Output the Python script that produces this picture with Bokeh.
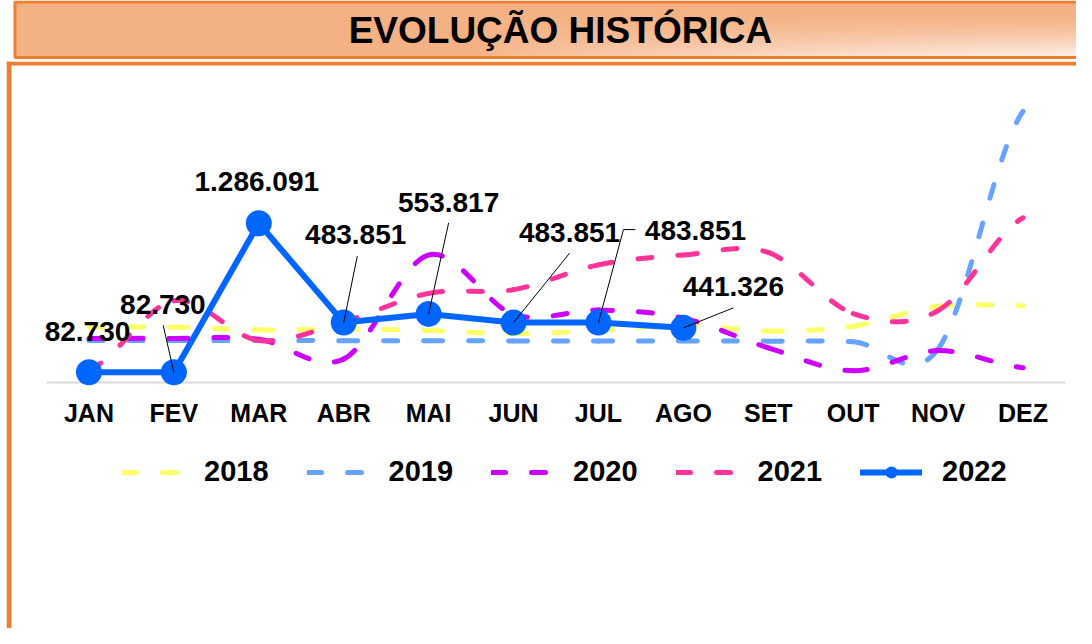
import numpy as np
from bokeh.plotting import figure
from bokeh.models import Range1d, LinearAxis, FixedTicker, Legend, LegendItem, ColumnDataSource
from bokeh.layouts import column
from bokeh.embed import file_html
from bokeh.resources import INLINE
from bokeh.core.properties import value

# ---------------- data ----------------
MONTHS = ["JAN", "FEV", "MAR", "ABR", "MAI", "JUN", "JUL", "AGO", "SET", "OUT", "NOV", "DEZ"]
YEARS = ["2018", "2019", "2020", "2021", "2022"]
Y2018 = [447000, 447000, 425000, 430000, 420000, 395000, 420000, 465000, 415000, 455000, 615000, 620000]
Y2019 = [340000, 340000, 340000, 338000, 338000, 336000, 336000, 336000, 334000, 330000, 270000, 2190000]
Y2020 = [356000, 356000, 350000, 190000, 1030000, 550000, 585000, 520000, 280000, 95000, 258000, 120000]
Y2021 = [100000, 660000, 340000, 490000, 720000, 750000, 950000, 1030000, 1050000, 557000, 580000, 1330000]
Y2022 = [82730, 82730, 1286091, 483851, 553817, 483851, 483851, 441326]

COLORS = ["#FFFF66", "#66A3FF", "#CC00FF", "#FF3399", "#0066FF"]

# label placement (screen px of the text centre relative to each 2022 point)
LABEL_DX = [-1.5, -11, -2, 12, 20, 56, 97, 50]
LABEL_DY = [-41, -68, -42, -88, -111, -90, -92, -41]
# leader lines: (knee dx, knee dy, end dx, end dy) or None
LEADERS = [None, (-10.7, -47, -10.7, -47), None, (13.6, -66.5, 13.6, -66.5),
           (20, -91, 20, -91), (56, -69.4, 56, -69.4), (25, -93, 37, -93), (50, -20, 50, -20)]

FONT = "Liberation Sans"
W = 1076
TITLE_H = 61
CHART_H = 567

# ---------------- title bar ----------------
t = figure(width=W, height=TITLE_H, x_range=Range1d(0, W), y_range=Range1d(0, TITLE_H),
           output_backend="svg", toolbar_location=None, min_border=0,
           x_axis_location=None, y_axis_location=None)
t.xgrid.visible = False
t.ygrid.visible = False
t.outline_line_color = None
t.background_fill_color = "white"
t.border_fill_color = "white"

IH, IW = 56, 1068
x0p, x1p = 16.5, 1084.0
ypb, ypt = 65.0, 9.5  # page y of image bottom / top
pxs = x0p + (np.arange(IW) + 0.5) * (x1p - x0p) / IW
pys = ypb - (np.arange(IH) + 0.5) * (ypb - ypt) / IH
PX, PY = np.meshgrid(pxs, pys)
tx = np.clip((PX - 480) / (1092 - 480), 0, 1)
ty = np.clip((PY - 18) / (64 - 18), 0, 1)
tt = (tx ** 0.6) * (ty ** 1.5)
C0 = np.array([244, 177, 131], float)
C1 = np.array([253, 241, 233], float)
img = np.empty((IH, IW), dtype=np.uint32)
view = img.view(dtype=np.uint8).reshape((IH, IW, 4))
for k in range(3):
    view[:, :, k] = np.round(C0[k] + (C1[k] - C0[k]) * tt).astype(np.uint8)
view[:, :, 3] = 255
t.image_rgba(image=[img], x=x0p - 8, y=8 + TITLE_H - ypb, dw=x1p - x0p, dh=ypb - ypt)
t.quad(left=[8.5], right=[W + 10], bottom=[4], top=[59.5], fill_color=None,
       line_color="#ED7D31", line_width=3)
t.text(x=[557], y=[31], text=["EVOLUÇÃO HISTÓRICA"], text_font=value(FONT),
       text_font_style="bold", text_font_size="37px", text_align="center",
       text_baseline="middle", text_color="black")

# ---------------- chart ----------------
FRAME_L, FRAME_R, FRAME_T, FRAME_B = 14, 1084, 69, 636  # page px
PLOT_L, PLOT_R, ZERO_Y = 54, 1073, 390
PXX = (PLOT_R - PLOT_L) / len(MONTHS)
VPX = 8076.0
x_start = -0.5 - (PLOT_L - FRAME_L) / PXX
x_end = len(MONTHS) - 0.5 + (FRAME_R - PLOT_R) / PXX
y_end = (ZERO_Y - FRAME_T) * VPX
y_start = -(FRAME_B - ZERO_Y) * VPX

p = figure(width=W, height=CHART_H, x_range=Range1d(x_start, x_end), y_range=Range1d(y_start, y_end),
           output_backend="svg", toolbar_location=None,
           min_border_left=FRAME_L - 8, min_border_right=0, min_border_top=0, min_border_bottom=0,
           x_axis_location=None, y_axis_location=None)
p.xgrid.visible = False
p.ygrid.visible = False
p.outline_line_color = None
p.background_fill_color = "white"
p.border_fill_color = "white"

# box borders (left and top)
p.quad(left=[x_start], right=[x_start + 5 / PXX], bottom=[y_start], top=[y_end],
       fill_color="#ED7D31", line_color=None)
p.quad(left=[x_start], right=[x_end], bottom=[y_end - 4 * VPX], top=[y_end],
       fill_color="#ED7D31", line_color=None)

# baseline
p.segment(x0=[-0.5], y0=[0], x1=[len(MONTHS) - 0.5], y1=[0], line_color="#D9D9D9", line_width=2)


def bez(vals):
    v = np.asarray(vals, float)
    n = len(v)
    x = np.arange(n, dtype=float)
    vp = np.concatenate([[v[0]], v, [v[-1]]])
    m = (vp[2:] - vp[:-2]) / 2.0
    return dict(x0=x[:-1], y0=v[:-1], x1=x[1:], y1=v[1:],
                cx0=x[:-1] + 1 / 3, cy0=v[:-1] + m[:-1] / 3,
                cx1=x[1:] - 1 / 3, cy1=v[1:] - m[1:] / 3)


renderers = []
for vals, col in zip([Y2018, Y2019, Y2020, Y2021], COLORS[:4]):
    r = p.bezier(source=ColumnDataSource(bez(vals)), x0="x0", y0="y0", x1="x1", y1="y1",
                 cx0="cx0", cy0="cy0", cx1="cx1", cy1="cy1",
                 line_color=col, line_width=5, line_dash="14 26", line_cap="round")
    renderers.append(r)

idx22 = list(range(len(Y2022)))
r22 = p.line(idx22, Y2022, line_color=COLORS[4], line_width=6, line_join="round", line_cap="round")
s22 = p.scatter(idx22, Y2022, size=26, fill_color=COLORS[4], line_color=None)

# leader lines
lx0, ly0, lx1, ly1 = [], [], [], []
for i, (v, ld) in enumerate(zip(Y2022, LEADERS)):
    if ld is None:
        continue
    kdx, kdy, edx, edy = ld
    lx0.append(i); ly0.append(v)
    lx1.append(i + kdx / PXX); ly1.append(v - kdy * VPX)
    if (edx, edy) != (kdx, kdy):
        lx0.append(i + kdx / PXX); ly0.append(v - kdy * VPX)
        lx1.append(i + edx / PXX); ly1.append(v - edy * VPX)
p.segment(x0=lx0, y0=ly0, x1=lx1, y1=ly1, line_color="black", line_width=1)

labels = [f"{v:,}".replace(",", ".") for v in Y2022]
lsrc = ColumnDataSource(dict(x=idx22, y=Y2022, text=labels, dx=LABEL_DX, dy=LABEL_DY))
p.text(x="x", y="y", text="text", x_offset="dx", y_offset="dy", source=lsrc,
       text_font=value(FONT), text_font_style="bold", text_font_size="28px",
       text_align="center", text_baseline="middle", text_color="black")

# month axis drawn at y = 0
ax = LinearAxis(fixed_location=0, ticker=FixedTicker(ticks=list(range(len(MONTHS)))),
                major_label_overrides={i: m for i, m in enumerate(MONTHS)})
ax.axis_line_color = None
ax.major_tick_line_color = None
ax.minor_tick_line_color = None
ax.major_label_standoff = 10
ax.major_label_text_font = FONT
ax.major_label_text_font_style = "bold"
ax.major_label_text_font_size = "25px"
ax.major_label_text_color = "black"
p.add_layout(ax, "below")

legend = Legend(items=[LegendItem(label=YEARS[0], renderers=[renderers[0]]),
                       LegendItem(label=YEARS[1], renderers=[renderers[1]]),
                       LegendItem(label=YEARS[2], renderers=[renderers[2]]),
                       LegendItem(label=YEARS[3], renderers=[renderers[3]]),
                       LegendItem(label=YEARS[4], renderers=[r22, s22])],
                orientation="horizontal", location=(116, 140),
                glyph_width=62, glyph_height=30, label_standoff=20, spacing=38,
                padding=0, margin=0, border_line_color=None, background_fill_alpha=0,
                label_text_font=FONT, label_text_font_style="bold", label_text_font_size="29px",
                label_text_color="black")
p.add_layout(legend)

layout = column(t, p, spacing=0)
open("out.html", "w").write(file_html(layout, INLINE))
